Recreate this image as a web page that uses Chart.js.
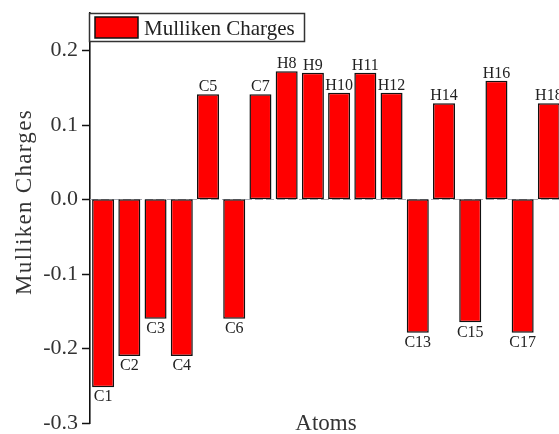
<!DOCTYPE html>
<html>
<head>
<meta charset="utf-8">
<script src="https://cdn.jsdelivr.net/npm/chart.js@4/dist/chart.umd.min.js"></script>
<style>
  html, body { margin: 0; padding: 0; background: #fff; overflow: hidden; }
  #wrap { width: 570px; height: 434px; }
</style>
</head>
<body>
<div id="wrap"><canvas id="c" width="570" height="434"></canvas></div>
<script>
// Mulliken charge on each atom
const atoms = ['C1','C2','C3','C4','C5','C6','C7','H8','H9','H10','H11','H12','C13','H14','C15','H16','C17','H18'];
const charges = [-0.252, -0.210, -0.160, -0.210, 0.141, -0.160, 0.141, 0.172, 0.170, 0.143, 0.170, 0.143, -0.179, 0.129, -0.165, 0.159, -0.179, 0.129];
const seriesName = 'Mulliken Charges';
const yMin = -0.3, yMax = 0.25, yStep = 0.05;

const SERIF = '"Liberation Serif", "Times New Roman", serif';

const isMajor = v => Math.abs(v * 10 - Math.round(v * 10)) < 1e-6;

const decorations = {
  id: 'decorations',
  beforeDatasetsDraw(chart) {
    const ctx = chart.ctx, y = chart.scales.y, a = chart.chartArea;
    // dashed zero line
    const y0 = Math.round(y.getPixelForValue(0)) + 0.5;
    ctx.save();
    ctx.strokeStyle = '#a7adb5';
    ctx.lineWidth = 1;
    ctx.setLineDash([8, 3]);
    ctx.beginPath();
    ctx.moveTo(a.left, y0);
    ctx.lineTo(a.right, y0);
    ctx.stroke();
    ctx.restore();
  },
  afterDatasetsDraw(chart) {
    const ctx = chart.ctx;
    const meta = chart.getDatasetMeta(0);
    ctx.save();
    ctx.font = '16px ' + SERIF;
    ctx.fillStyle = '#222';
    ctx.textAlign = 'center';
    meta.data.forEach((bar, i) => {
      const v = charges[i];
      if (v >= 0) {
        ctx.textBaseline = 'alphabetic';
        ctx.fillText(atoms[i], bar.x, bar.y - 3);
      } else {
        ctx.textBaseline = 'top';
        ctx.fillText(atoms[i], bar.x, bar.y + 2);
      }
    });
    ctx.restore();
  },
  afterDraw(chart) {
    const ctx = chart.ctx, y = chart.scales.y, a = chart.chartArea;
    ctx.save();
    // tick marks on the value axis
    ctx.strokeStyle = '#111';
    ctx.lineWidth = 1.5;
    y.ticks.forEach(t => {
      if (t.value > 0.2 + 1e-9) return;
      const py = Math.round(y.getPixelForValue(t.value)) + 0.5;
      const len = isMajor(t.value) ? 8 : 4;
      ctx.beginPath();
      ctx.moveTo(a.left - len, py);
      ctx.lineTo(a.left, py);
      ctx.stroke();
    });

    // axis titles
    ctx.fillStyle = '#333';
    ctx.font = '23px ' + SERIF;
    ctx.textAlign = 'center';
    ctx.textBaseline = 'alphabetic';
    ctx.fillText('Atoms', (a.left + a.right) / 2, 430);

    ctx.save();
    ctx.translate(31, 202);
    ctx.rotate(-Math.PI / 2);
    ctx.letterSpacing = '1.3px';
    ctx.fillText(seriesName, 0, 0);
    ctx.restore();

    // legend box
    const lx = a.left - 1, ly = a.top, lw = 215, lh = 28;
    ctx.fillStyle = '#fff';
    ctx.fillRect(lx, ly, lw, lh);
    ctx.strokeStyle = '#333';
    ctx.lineWidth = 1.5;
    ctx.strokeRect(lx + 0.5, ly + 0.5, lw, lh);
    ctx.fillStyle = '#ff0000';
    ctx.fillRect(lx + 6, ly + 4, 43, 21);
    ctx.strokeStyle = '#111';
    ctx.lineWidth = 1.5;
    ctx.strokeRect(lx + 6, ly + 4, 43, 21);
    ctx.fillStyle = '#222';
    ctx.font = '21px ' + SERIF;
    ctx.textAlign = 'left';
    ctx.fillText(seriesName, lx + 55, ly + 22);
    ctx.restore();
  }
};

new Chart(document.getElementById('c'), {
  type: 'bar',
  data: {
    labels: atoms,
    datasets: [{
      label: seriesName,
      data: charges,
      backgroundColor: '#ff0000',
      borderColor: '#111',
      borderWidth: 1.5,
      borderSkipped: false,
      barPercentage: 0.84,
      categoryPercentage: 1.0
    }]
  },
  options: {
    responsive: false,
    animation: false,
    devicePixelRatio: 1,
    layout: { padding: { top: 13, bottom: 11, left: 0, right: 8 } },
    plugins: { legend: { display: false }, tooltip: { enabled: false } },
    scales: {
      x: { display: false },
      y: {
        min: yMin,
        max: yMax,
        afterFit(s) {
          s.width = 90;
          s.paddingTop = 0;
          s.paddingBottom = 0;
        },
        grid: { display: false, drawTicks: false },
        border: { display: true, color: '#111', width: 1.6 },
        ticks: {
          stepSize: yStep,
          autoSkip: false,
          padding: 12,
          color: '#333',
          font: { family: SERIF, size: 22, lineHeight: 1 },
          callback: v => (isMajor(v) && v <= 0.2 + 1e-9) ? v.toFixed(1) : null
        }
      }
    }
  },
  plugins: [decorations]
});
</script>
</body>
</html>
